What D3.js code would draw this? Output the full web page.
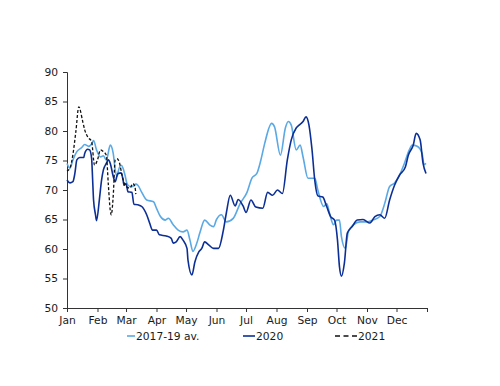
<!DOCTYPE html>
<html>
<head>
<meta charset="utf-8">
<script src="https://cdn.jsdelivr.net/npm/d3@7"></script>
<style>
  body { margin: 0; background: #fff; }
  text { font-family: "DejaVu Sans", Verdana, sans-serif; font-size: 10.7px; fill: #1a1a1a; }
</style>
</head>
<body>
<svg id="chart" width="500" height="386"></svg>
<script>
// day of year (0 = 1 Jan) and index values
const avgDays = [0, 3, 6, 10, 15, 18, 22, 25, 27, 30, 34, 37, 40, 44, 47, 49, 51, 52, 55, 57, 59, 61, 64, 67, 70, 72, 76, 81, 88, 91, 95, 100, 103, 108, 113, 118, 122, 125, 128, 132, 135, 140, 145, 149, 152, 157, 162, 169, 176, 183, 188, 193, 197, 201, 208, 211, 217, 222, 225, 228, 233, 237, 240, 245, 252, 255, 261, 264, 267, 271, 274, 277, 279, 283, 286, 291, 298, 305, 311, 318, 323, 328, 333, 338, 343, 348, 351, 356, 361, 363, 365];
const avgValues = [74.5, 73.7, 75.1, 76.5, 77.2, 77.7, 77.4, 77.8, 78.4, 76.8, 75.6, 75.8, 75.1, 77.6, 76.2, 73.4, 72.3, 73.1, 74.2, 73.7, 72.5, 71.1, 70.6, 70.6, 71.0, 70.8, 69.6, 68.3, 68.0, 66.9, 65.5, 64.9, 65.2, 64.1, 63.2, 62.9, 63.2, 61.5, 59.6, 61.0, 62.7, 64.9, 64.1, 63.8, 65.0, 65.8, 64.6, 65.2, 67.7, 69.6, 72.0, 72.8, 75.0, 77.9, 81.3, 80.7, 75.9, 80.5, 81.6, 81.0, 76.8, 77.6, 75.6, 72.0, 72.0, 70.0, 67.2, 67.7, 66.0, 64.1, 64.9, 64.9, 62.1, 60.1, 62.9, 64.1, 64.6, 64.6, 64.9, 65.5, 67.7, 70.6, 71.2, 72.5, 74.5, 76.8, 77.6, 77.4, 76.2, 74.3, 74.5];

const days2020 = [0, 3, 6, 8, 10, 13, 17, 18, 21, 23, 25, 26, 27, 29, 30, 33, 35, 37, 40, 42, 44, 47, 49, 51, 52, 55, 57, 58, 60, 62, 66, 68, 72, 76, 81, 84, 87, 91, 94, 101, 106, 108, 111, 115, 118, 122, 123, 127, 130, 134, 137, 140, 144, 149, 154, 159, 162, 166, 171, 174, 179, 182, 187, 192, 199, 204, 209, 214, 219, 224, 228, 233, 236, 240, 243, 246, 249, 252, 255, 260, 264, 268, 272, 275, 277, 279, 282, 285, 290, 295, 301, 308, 313, 318, 323, 328, 333, 338, 344, 347, 352, 355, 359, 362, 365];
const values2020 = [71.7, 71.2, 71.4, 72.8, 75.1, 75.5, 75.5, 76.2, 76.9, 76.8, 75.4, 72.0, 68.3, 65.8, 64.8, 68.5, 71.5, 73.4, 74.5, 75.1, 74.5, 72.3, 71.4, 72.5, 72.8, 72.9, 71.7, 70.8, 71.1, 69.7, 69.6, 67.6, 67.5, 67.2, 65.8, 64.4, 63.2, 63.2, 62.4, 62.2, 61.8, 61.0, 61.2, 62.1, 61.5, 60.1, 58.1, 55.6, 57.8, 59.5, 60.1, 61.2, 60.7, 60.1, 60.1, 63.2, 66.1, 69.1, 67.3, 68.4, 67.3, 66.2, 68.3, 67.1, 66.9, 69.6, 69.1, 70.0, 69.4, 75.1, 78.5, 80.5, 81.0, 81.6, 82.4, 81.0, 77.0, 71.5, 69.0, 68.8, 67.2, 65.5, 64.9, 61.5, 57.0, 55.4, 57.6, 62.7, 63.8, 64.9, 65.0, 64.4, 65.5, 65.8, 65.2, 68.3, 70.8, 72.5, 73.9, 75.9, 77.6, 79.6, 78.5, 74.5, 72.8];

const days2021 = [0, 3, 6, 9, 12, 16, 18, 21, 25, 28, 31, 34, 37, 40, 42, 44, 45, 47, 49, 51, 53, 56, 59, 61, 64, 67, 69, 70];
const values2021 = [73.2, 73.7, 76.0, 79.9, 84.1, 81.6, 80.2, 79.0, 78.2, 74.2, 75.1, 76.8, 76.5, 75.9, 71.0, 66.5, 65.8, 69.0, 75.1, 75.3, 74.8, 72.5, 70.8, 70.5, 70.3, 71.1, 70.6, 69.3];

const yTicks = [50, 55, 60, 65, 70, 75, 80, 85, 90];
const monthLabels = ["Jan", "Feb", "Mar", "Apr", "May", "Jun", "Jul", "Aug", "Sep", "Oct", "Nov", "Dec"];

const seriesList = [
  { name: "2017-19 av.", days: avgDays, values: avgValues, color: "#5aa8e4", dash: null, legendDash: null, width: 1.6 },
  { name: "2020", days: days2020, values: values2020, color: "#0c2f96", dash: null, legendDash: null, width: 1.6 },
  { name: "2021", days: days2021, values: values2021, color: "#111", dash: "3,2", legendDash: "5,3.5", width: 1.3 },
];

const margin = { top: 72, right: 73, bottom: 78, left: 67 };
const width = 500, height = 386;
const plotW = width - margin.left - margin.right;
const plotH = height - margin.top - margin.bottom;

const svg = d3.select("#chart");
const g = svg.append("g").attr("transform", `translate(${margin.left},${margin.top})`);

const start = new Date(2020, 0, 1);
const dayToDate = (d) => d3.timeDay.offset(start, d);

const x = d3.scaleTime().domain([start, new Date(2021, 0, 1)]).range([0, plotW]);
const y = d3.scaleLinear().domain([50, 90]).range([plotH, 0]);

// y axis
const yAxis = g.append("g")
  .call(d3.axisLeft(y).tickValues(yTicks).tickSize(4).tickPadding(5));
yAxis.select(".domain").attr("stroke", "#333");
yAxis.selectAll(".tick line").attr("stroke", "#333");
yAxis.selectAll(".tick text").attr("font-family", null).attr("font-size", null);

// x axis, month ticks with labels, plus closing tick
const monthTicks = d3.timeMonth.range(start, new Date(2021, 0, 2));
const xAxis = g.append("g")
  .attr("transform", `translate(0,${plotH})`)
  .call(d3.axisBottom(x).tickValues(monthTicks).tickSize(4).tickPadding(4)
    .tickFormat((d, i) => monthLabels[i] || ""));
xAxis.select(".domain").attr("stroke", "#333");
xAxis.selectAll(".tick line").attr("stroke", "#333");
xAxis.selectAll(".tick text").attr("font-family", null).attr("font-size", null);

const line = d3.line()
  .x((d) => x(dayToDate(d[0])))
  .y((d) => y(d[1]))
  .curve(d3.curveMonotoneX);

seriesList.forEach((s) => {
  g.append("path")
    .datum(d3.zip(s.days, s.values))
    .attr("d", line)
    .attr("fill", "none")
    .attr("stroke", s.color)
    .attr("stroke-width", s.width)
    .attr("stroke-dasharray", s.dash)
    .attr("stroke-linejoin", "round");
});

// legend
const legendX = [127, 243, 335];
const legendLen = [8, 12, 22];
const legend = svg.append("g").attr("transform", "translate(0,336)");
seriesList.forEach((s, i) => {
  legend.append("line")
    .attr("x1", legendX[i]).attr("x2", legendX[i] + legendLen[i])
    .attr("y1", 0).attr("y2", 0)
    .attr("stroke", s.color)
    .attr("stroke-width", s.width)
    .attr("stroke-dasharray", s.legendDash);
  legend.append("text")
    .attr("x", legendX[i] + legendLen[i] + 1)
    .attr("y", 4)
    .text(s.name);
});
</script>
</body>
</html>
